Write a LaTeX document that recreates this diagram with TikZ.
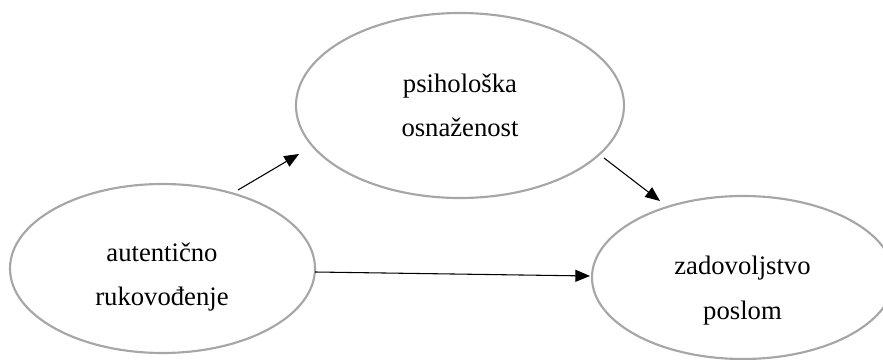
\documentclass[tikz,border=0pt]{standalone}
\usepackage{fontspec}
\setmainfont{Liberation Serif}
\usetikzlibrary{shapes.geometric,arrows.meta}
\definecolor{ellgray}{HTML}{A6A6A6}
\tikzset{
  oval/.style={ellipse,draw=ellgray,line width=1.6pt,inner sep=0pt},
  lbl/.style={anchor=base,inner sep=0pt,font=\fontsize{20}{24}\selectfont},
  conn/.style={line width=0.8pt,-{Triangle[length=11pt,width=9pt]}}
}
\begin{document}
\begin{tikzpicture}[x=0.75pt,y=-0.75pt]
\useasboundingbox (0,0) rectangle (883,360);
\node[oval,minimum width=305*0.75pt,minimum height=169*0.75pt] (ar) at (162.5,268.5) {};
\node[oval,minimum width=328*0.75pt,minimum height=185*0.75pt] (po) at (460,105.5) {};
\node[oval,minimum width=302*0.75pt,minimum height=163*0.75pt] (zp) at (743,277.5) {};
\node[lbl] (ar1) at (162,262) {autentično};
\node[lbl] (ar2) at (162,305) {rukovođenje};
\node[lbl] (po1) at (460,93) {psihološka};
\node[lbl] (po2) at (460,137) {osnaženost};
\node[lbl] (zp1) at (742.5,274) {zadovoljstvo};
\node[lbl] (zp2) at (742.5,319) {poslom};
\coordinate (a1s) at (238,190);
\coordinate (a1e) at (299,154);
\coordinate (a2s) at (604,158);
\coordinate (a2e) at (660,201);
\coordinate (a3s) at (315,272);
\coordinate (a3e) at (590,276);
\draw[conn] (a1s) -- (a1e);
\draw[conn] (a2s) -- (a2e);
\draw[conn] (a3s) -- (a3e);
\end{tikzpicture}
\end{document}
